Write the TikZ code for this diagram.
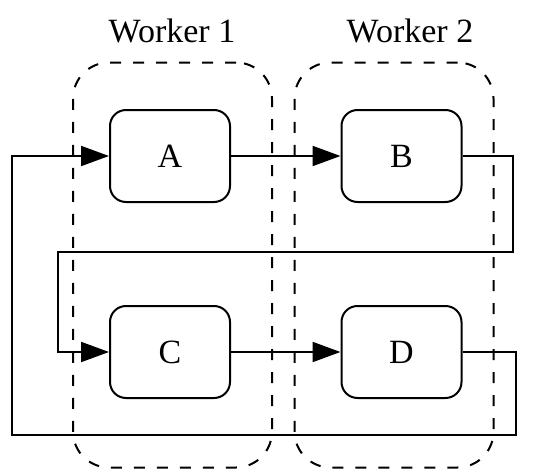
\documentclass[tikz,border=0pt]{standalone}
\usepackage{fontspec}
\setmainfont{Liberation Serif}
\usetikzlibrary{arrows.meta}
\begin{document}
\begin{tikzpicture}[x=1pt,y=-1pt,
  cluster/.style={draw, dash pattern=on 11pt off 12pt, line width=2pt, rounded corners=36pt, minimum width=199pt, minimum height=405pt, inner sep=0pt},
  proc/.style={draw, line width=2pt, rounded corners=16pt, minimum width=120pt, minimum height=92pt, inner sep=0pt, font=\fontsize{34}{40}\selectfont, fill=white},
  lbl/.style={font=\fontsize{34}{40}\selectfont, inner sep=0pt},
  edge/.style={line width=2pt, -{Triangle[length=28pt,width=20pt]}}
]
\useasboundingbox (0,0) rectangle (542,471);
\node[cluster] (w1) at (172.5,265) {};
\node[cluster] (w2) at (394,265) {};
\node[lbl] (l1) at (172,31) {Worker 1};
\node[lbl] (l2) at (410,31) {Worker 2};
\node[proc] (A) at (170,156) {A};
\node[proc] (B) at (401.5,156) {B};
\node[proc] (C) at (170,352) {C};
\node[proc] (D) at (401.5,352) {D};
\draw[edge] (A) -- (B);
\draw[edge] (C) -- (D);
\coordinate (b1) at (513,156);
\coordinate (b2) at (513,252);
\coordinate (b3) at (58,252);
\coordinate (b4) at (58,352);
\draw[edge] (B.east) -- (b1) -- (b2) -- (b3) -- (b4) -- (C.west);
\coordinate (d1) at (516,352);
\coordinate (d2) at (516,435);
\coordinate (d3) at (12,435);
\coordinate (d4) at (12,156);
\draw[edge] (D.east) -- (d1) -- (d2) -- (d3) -- (d4) -- (A.west);
\end{tikzpicture}
\end{document}
